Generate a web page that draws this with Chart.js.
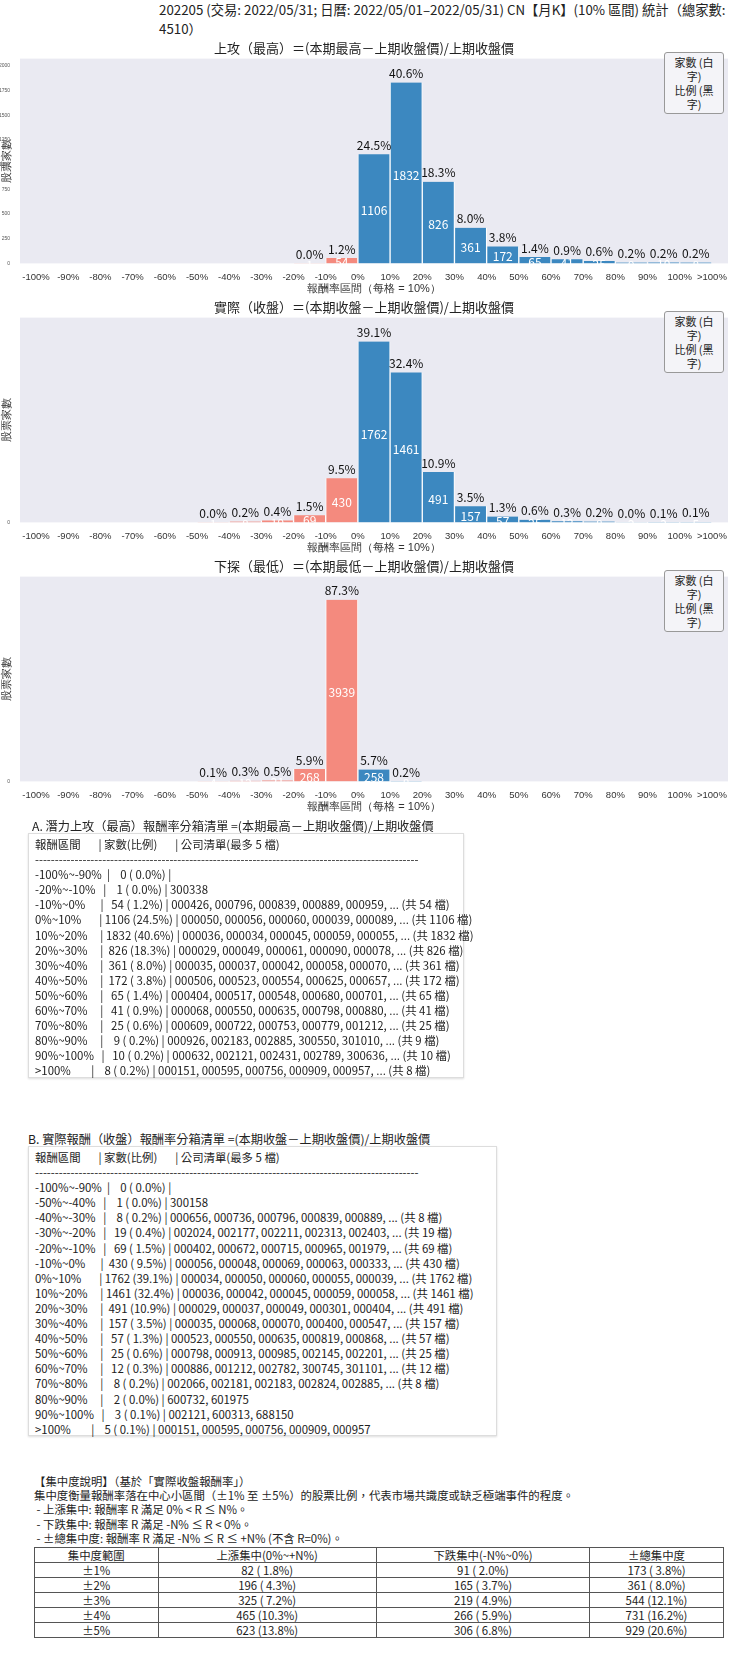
<!DOCTYPE html>
<html><head><meta charset="utf-8">
<script src="https://cdn.jsdelivr.net/npm/chart.js@4"></script>
<style>
body{margin:0;background:#fff;font-family:"Noto Sans CJK TC","Noto Sans",sans-serif;color:#222;}
#wrap{position:relative;width:740px;height:1660px;}
.abs{position:absolute;}
.cv{position:absolute;left:0;}
.leg{position:absolute;left:664px;width:52px;font-size:11px;line-height:14px;border:1px solid #999;border-radius:3px;background:#f4f4f8;padding:2px 3px;text-align:center;}
pre{margin:0;font-family:"Noto Sans CJK TC",sans-serif;font-size:11.4px;line-height:15.1px;}
.box{position:absolute;border:1px solid #ddd;box-shadow:0 1px 2px #ddd;padding:3px 6px;}
table{border-collapse:collapse;font-size:11.4px;}
td{border:1px solid #555;text-align:center;height:14px;padding:0;line-height:14px;}
</style></head><body><div id="wrap">
<div class="abs" style="left:159px;top:0px;font-size:13.3px;">202205 (交易: 2022/05/31; 日曆: 2022/05/01–2022/05/31) CN【月K】(10% 區間) 統計（總家數: 4510）</div>
<canvas id="c1" class="cv" width="740" height="262" style="top:38px"></canvas>
<canvas id="c2" class="cv" width="740" height="262" style="top:297px"></canvas>
<canvas id="c3" class="cv" width="740" height="262" style="top:556px"></canvas>
<div class="leg" style="top:52px">家數 (白字)<br>比例 (黑字)</div>
<div class="leg" style="top:311px">家數 (白字)<br>比例 (黑字)</div>
<div class="leg" style="top:570px">家數 (白字)<br>比例 (黑字)</div>

<div class="abs" style="left:32px;top:817px;font-size:12.2px;">A. 潛力上攻（最高）報酬率分箱清單 =(本期最高－上期收盤價)/上期收盤價</div>
<div class="box" style="left:28px;top:833px;width:422px;height:237px;"><pre>報酬區間       | 家數(比例)       | 公司清單(最多 5 檔)
-------------------------------------------------------------------------------------------------
-100%~-90%  |    0 ( 0.0%) |
-20%~-10%   |    1 ( 0.0%) | 300338
-10%~0%      |   54 ( 1.2%) | 000426, 000796, 000839, 000889, 000959, ... (共 54 檔)
0%~10%       | 1106 (24.5%) | 000050, 000056, 000060, 000039, 000089, ... (共 1106 檔)
10%~20%     | 1832 (40.6%) | 000036, 000034, 000045, 000059, 000055, ... (共 1832 檔)
20%~30%     |  826 (18.3%) | 000029, 000049, 000061, 000090, 000078, ... (共 826 檔)
30%~40%     |  361 ( 8.0%) | 000035, 000037, 000042, 000058, 000070, ... (共 361 檔)
40%~50%     |  172 ( 3.8%) | 000506, 000523, 000554, 000625, 000657, ... (共 172 檔)
50%~60%     |   65 ( 1.4%) | 000404, 000517, 000548, 000680, 000701, ... (共 65 檔)
60%~70%     |   41 ( 0.9%) | 000068, 000550, 000635, 000798, 000880, ... (共 41 檔)
70%~80%     |   25 ( 0.6%) | 000609, 000722, 000753, 000779, 001212, ... (共 25 檔)
80%~90%     |    9 ( 0.2%) | 000926, 002183, 002885, 300550, 301010, ... (共 9 檔)
90%~100%   |   10 ( 0.2%) | 000632, 002121, 002431, 002789, 300636, ... (共 10 檔)
>100%        |    8 ( 0.2%) | 000151, 000595, 000756, 000909, 000957, ... (共 8 檔)</pre></div>

<div class="abs" style="left:28px;top:1130px;font-size:12.2px;">B. 實際報酬（收盤）報酬率分箱清單 =(本期收盤－上期收盤價)/上期收盤價</div>
<div class="box" style="left:28px;top:1146px;width:455px;height:282px;"><pre>報酬區間       | 家數(比例)       | 公司清單(最多 5 檔)
-------------------------------------------------------------------------------------------------
-100%~-90%  |    0 ( 0.0%) |
-50%~-40%   |    1 ( 0.0%) | 300158
-40%~-30%   |    8 ( 0.2%) | 000656, 000736, 000796, 000839, 000889, ... (共 8 檔)
-30%~-20%   |   19 ( 0.4%) | 002024, 002177, 002211, 002313, 002403, ... (共 19 檔)
-20%~-10%   |   69 ( 1.5%) | 000402, 000672, 000715, 000965, 001979, ... (共 69 檔)
-10%~0%      |  430 ( 9.5%) | 000056, 000048, 000069, 000063, 000333, ... (共 430 檔)
0%~10%       | 1762 (39.1%) | 000034, 000050, 000060, 000055, 000039, ... (共 1762 檔)
10%~20%     | 1461 (32.4%) | 000036, 000042, 000045, 000059, 000058, ... (共 1461 檔)
20%~30%     |  491 (10.9%) | 000029, 000037, 000049, 000301, 000404, ... (共 491 檔)
30%~40%     |  157 ( 3.5%) | 000035, 000068, 000070, 000400, 000547, ... (共 157 檔)
40%~50%     |   57 ( 1.3%) | 000523, 000550, 000635, 000819, 000868, ... (共 57 檔)
50%~60%     |   25 ( 0.6%) | 000798, 000913, 000985, 002145, 002201, ... (共 25 檔)
60%~70%     |   12 ( 0.3%) | 000886, 001212, 002782, 300745, 301101, ... (共 12 檔)
70%~80%     |    8 ( 0.2%) | 002066, 002181, 002183, 002824, 002885, ... (共 8 檔)
80%~90%     |    2 ( 0.0%) | 600732, 601975
90%~100%   |    3 ( 0.1%) | 002121, 600313, 688150
>100%        |    5 ( 0.1%) | 000151, 000595, 000756, 000909, 000957</pre></div>

<div class="abs" style="left:34px;top:1474px;font-size:11.4px;line-height:14.2px;">【集中度說明】（基於「實際收盤報酬率」）<br>集中度衡量報酬率落在中心小區間（±1% 至 ±5%）的股票比例，代表市場共識度或缺乏極端事件的程度。<br>&nbsp;- 上漲集中: 報酬率 R 滿足 0% &lt; R ≤ N%。<br>&nbsp;- 下跌集中: 報酬率 R 滿足 -N% ≤ R &lt; 0%。<br>&nbsp;- ±總集中度: 報酬率 R 滿足 -N% ≤ R ≤ +N% (不含 R=0%)。</div>
<table class="abs" style="left:34px;top:1547px;width:690px;">
<tr><td>集中度範圍</td><td>上漲集中(0%~+N%)</td><td>下跌集中(-N%~0%)</td><td>±總集中度</td></tr>
<tr><td>±1%</td><td>82 ( 1.8%)</td><td>91 ( 2.0%)</td><td>173 ( 3.8%)</td></tr>
<tr><td>±2%</td><td>196 ( 4.3%)</td><td>165 ( 3.7%)</td><td>361 ( 8.0%)</td></tr>
<tr><td>±3%</td><td>325 ( 7.2%)</td><td>219 ( 4.9%)</td><td>544 (12.1%)</td></tr>
<tr><td>±4%</td><td>465 (10.3%)</td><td>266 ( 5.9%)</td><td>731 (16.2%)</td></tr>
<tr><td>±5%</td><td>623 (13.8%)</td><td>306 ( 6.8%)</td><td>929 (20.6%)</td></tr>
</table>
</div>
<script>
const TOTAL = 4510;
const edgeLabels = ['-100%','-90%','-80%','-70%','-60%','-50%','-40%','-30%','-20%','-10%','0%','10%','20%','30%','40%','50%','60%','70%','80%','90%','100%','>100%'];
const highCounts  = [0,0,0,0,0,0,0,0,1,54,1106,1832,826,361,172,65,41,25,9,10,8];
const closeCounts = [0,0,0,0,0,1,8,19,69,430,1762,1461,491,157,57,25,12,8,2,3,5];
const lowCounts   = [0,0,0,0,0,4,12,21,268,3939,258,8,0,0,0,0,0,0,0,0,0];
const highPct  = [null,null,null,null,null,null,null,null,'0.0%','1.2%','24.5%','40.6%','18.3%','8.0%','3.8%','1.4%','0.9%','0.6%','0.2%','0.2%','0.2%'];
const closePct = [null,null,null,null,null,'0.0%','0.2%','0.4%','1.5%','9.5%','39.1%','32.4%','10.9%','3.5%','1.3%','0.6%','0.3%','0.2%','0.0%','0.1%','0.1%'];
const lowPct   = [null,null,null,null,null,'0.1%','0.3%','0.5%','5.9%','87.3%','5.7%','0.2%',null,null,null,null,null,null,null,null,null];

const bgPlugin={id:'bg',beforeDraw(c){const a=c.chartArea,x=c.ctx;x.save();x.fillStyle='#eaeaf2';x.fillRect(a.left,a.top,a.width,a.height);x.restore();}};
const lblPlugin={id:'lbl',afterDatasetsDraw(c){
  const x=c.ctx,meta=c.getDatasetMeta(0),pct=c.options.plugins.lbl.pct,cnt=c.data.datasets[0].data;
  x.save();x.textAlign='center';x.font='12px "Noto Sans CJK TC"';
  meta.data.forEach((b,i)=>{
    if(pct[i]){x.fillStyle='#111';x.textBaseline='bottom';x.fillText(pct[i],b.x,b.y-3);}
    if(cnt[i].y>0){x.fillStyle='#fff';x.textBaseline='middle';x.fillText(String(cnt[i].y),b.x,(b.y+b.base)/2+2);}
  });x.restore();}};

function mk(id,title,counts,pct,ymax,step){
  new Chart(document.getElementById(id),{type:'bar',
    data:{datasets:[{data:counts.map((v,i)=>({x:i+0.5,y:v})),
      backgroundColor:counts.map((v,i)=>i<10?'#f48a7e':'#3c88c0'),
      borderColor:'#fff',borderWidth:{left:1,right:1},barPercentage:1,categoryPercentage:1}]},
    options:{responsive:false,animation:false,
      layout:{padding:{left:0,right:12,top:0}},
      plugins:{legend:{display:false},tooltip:{enabled:false},
        title:{display:true,text:title,color:'#222',font:{size:13,family:'"Noto Sans CJK TC"',weight:'normal'},padding:{top:2,bottom:3}},
        lbl:{pct}},
      scales:{
        x:{type:'linear',min:0,max:21,grid:{display:false},border:{display:false},
          ticks:{stepSize:1,autoSkip:false,maxRotation:0,color:'#333',font:{size:9.5},padding:0,callback:v=>edgeLabels[v]},
          title:{display:true,text:'報酬率區間（每格 = 10%）',color:'#333',font:{size:11},padding:{top:0}}},
        y:{min:0,max:ymax,grid:{display:false},border:{display:false},
          ticks:{stepSize:step,color:'#555',font:{size:5},padding:2,callback:v=>v%step===0?String(v):''},
          afterFit(s){s.width=20;},
          title:{display:true,text:'股票家數',color:'#333',font:{size:11},padding:0}}}},
    plugins:[bgPlugin,lblPlugin]});
}
mk('c1','上攻（最高）＝(本期最高－上期收盤價)/上期收盤價',highCounts,highPct,2075,250);
mk('c2','實際（收盤）＝(本期收盤－上期收盤價)/上期收盤價',closeCounts,closePct,1995,250);
mk('c3','下探（最低）＝(本期最低－上期收盤價)/上期收盤價',lowCounts,lowPct,4440,1000);
</script></body></html>
